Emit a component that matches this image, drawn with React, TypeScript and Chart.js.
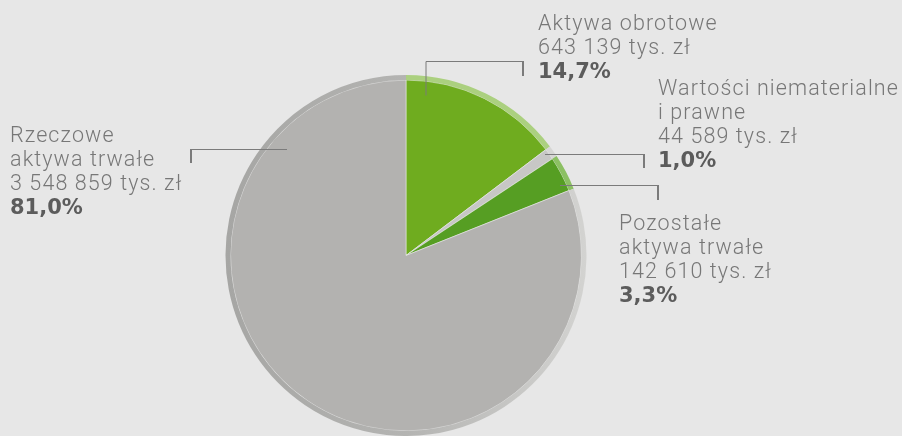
import React, { useEffect, useRef } from "react";
import { Chart, registerables } from "chart.js";

Chart.register(...registerables);

// ---- data ----
const categories = [
  "Aktywa obrotowe",
  "Wartości niematerialne i prawne",
  "Pozostałe aktywa trwałe",
  "Rzeczowe aktywa trwałe",
];
const valuesTysZl = [643139, 44589, 142610, 3548859];
const valueLabels = ["643 139 tys. zł", "44 589 tys. zł", "142 610 tys. zł", "3 548 859 tys. zł"];
const percentLabels = ["14,7%", "1,0%", "3,3%", "81,0%"];
const nameLines = [
  ["Aktywa obrotowe"],
  ["Wartości niematerialne", "i prawne"],
  ["Pozostałe", "aktywa trwałe"],
  ["Rzeczowe", "aktywa trwałe"],
];

// ---- styles ----
const fillColors = ["#6fac1f", "#c7c7c5", "#569e23", "#b3b2b0"];
const rimColors = ["#abd07f", "#d6d6d4", "#8cc063", "gray-gradient"];
const BG = "#e7e7e7";

// label layout (block left x, first baseline y)
const labelLayout = [
  { x: 538, y: 30 },
  { x: 658, y: 95 },
  { x: 619, y: 230 },
  { x: 10, y: 142 },
];
const LINE_H = 24;

// leader lines: polyline points, then tick segment
const leaderLayout = [
  { line: [[426, 95], [426, 61], [523, 61]], tick: [[523, 61], [523, 76]] },
  { line: [[545, 154], [644, 154]], tick: [[644, 154], [644, 168]] },
  { line: [[560, 185], [658, 185]], tick: [[658, 185], [658, 200]] },
  { line: [[287, 149], [191, 149]], tick: [[191, 149], [191, 163]] },
];

const labelsPlugin = {
  id: "pieLabels",
  afterDraw(chart: any) {
    const ctx = chart.ctx as any;
    ctx.save();
    // leader lines
    ctx.strokeStyle = "#7b7b7b";
    leaderLayout.forEach((l) => {
      ctx.lineWidth = 1;
      ctx.beginPath();
      l.line.forEach((p, i) => (i === 0 ? ctx.moveTo(p[0], p[1] + 0.5) : ctx.lineTo(p[0], p[1] + 0.5)));
      ctx.stroke();
      ctx.lineWidth = 2;
      ctx.beginPath();
      ctx.moveTo(l.tick[0][0], l.tick[0][1]);
      ctx.lineTo(l.tick[1][0], l.tick[1][1]);
      ctx.stroke();
    });
    // texts
    ctx.textAlign = "left";
    ctx.textBaseline = "alphabetic";
    categories.forEach((_, i) => {
      const { x, y } = labelLayout[i];
      const lines = [...nameLines[i], valueLabels[i]];
      ctx.fillStyle = "#777777";
      ctx.font = "300 21.5px Roboto, 'Liberation Sans', sans-serif";
      ctx.letterSpacing = "1.1px";
      lines.forEach((t, k) => ctx.fillText(t, x, y + k * LINE_H));
      ctx.fillStyle = "#5c5c5c";
      ctx.letterSpacing = "0px";
      ctx.font = "bold 21px 'DejaVu Sans', sans-serif";
      ctx.fillText(percentLabels[i], x, y + lines.length * LINE_H);
    });
    ctx.restore();
  },
};

export default function App() {
  const ref = useRef<HTMLCanvasElement | null>(null);
  useEffect(() => {
    document.body.style.margin = "0";
    document.body.style.background = BG;
    if (!ref.current) return;
    const rimColor = (c: any) => {
      const col = rimColors[c.dataIndex];
      if (col !== "gray-gradient") return col;
      const area = c.chart.chartArea;
      if (!area) return "#bdbdbb";
      const g = c.chart.ctx.createLinearGradient(area.left, 0, area.right, 0);
      g.addColorStop(0, "#a6a6a4");
      g.addColorStop(0.5, "#b4b4b2");
      g.addColorStop(1, "#d3d3d1");
      return g;
    };
    const chart = new Chart(ref.current, {
      type: "pie",
      data: {
        labels: categories,
        datasets: [
          {
            data: valuesTysZl,
            backgroundColor: rimColor as any,
            borderWidth: 0,
            weight: 5,
          },
          {
            data: valuesTysZl,
            backgroundColor: fillColors,
            borderColor: "rgba(235,235,235,0.55)",
            borderWidth: 1,
            weight: 174,
          },
        ],
      },
      options: {
        animation: false,
        responsive: true,
        maintainAspectRatio: false,
        layout: { padding: { top: 75, bottom: 0, left: 225, right: 315 } },
        plugins: {
          legend: { display: false },
          tooltip: { enabled: false },
        },
      },
      plugins: [labelsPlugin],
    });
    return () => chart.destroy();
  }, []);
  return (
    <div style={{ width: 902, height: 436, position: "relative", background: BG }}>
      <canvas ref={ref} />
    </div>
  );
}
